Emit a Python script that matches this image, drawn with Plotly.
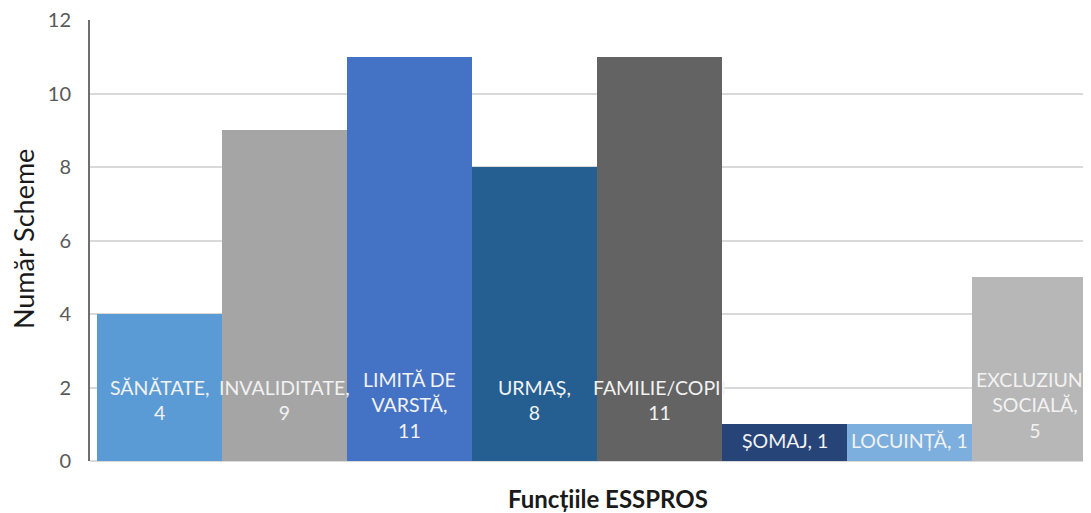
import plotly.graph_objects as go

categories = ["SĂNĂTATE", "INVALIDITATE", "LIMITĂ DE VARSTĂ", "URMAȘ",
              "FAMILIE/COPII", "ȘOMAJ", "LOCUINȚĂ", "EXCLUZIUNE SOCIALĂ"]
values = [4, 9, 11, 8, 11, 1, 1, 5]
label_texts = ["SĂNĂTATE,<br>4", "INVALIDITATE,<br>9", "LIMITĂ DE<br>VARSTĂ,<br>11",
               "URMAȘ,<br>8", "FAMILIE/COPII<br>11", "ȘOMAJ, 1", "LOCUINȚĂ, 1",
               "EXCLUZIUNE<br>SOCIALĂ,<br>5"]
colors = ["#5b9bd5", "#a5a5a5", "#4472c4", "#255e91",
          "#636363", "#264478", "#7cafdd", "#b7b7b7"]
y_ticks = [0, 2, 4, 6, 8, 10, 12]

x_idx = list(range(len(categories)))

fig = go.Figure()
fig.add_trace(go.Bar(
    x=x_idx, y=values, marker=dict(color=colors, line=dict(width=0)),
    width=1.0, hoverinfo="skip", showlegend=False,
))

annotations = []
for i, (v, t) in enumerate(zip(values, label_texts)):
    ly = min(v * 0.57, 1.65)
    if t.count("<br>") == 2:
        ly -= 0.12
    annotations.append(dict(
        x=i, y=ly, xref="x", yref="y", text=t, showarrow=False,
        font=dict(family="Lato", size=19.5, color="#f2f2f2"),
        xanchor="center", yanchor="middle", align="center",
    ))

annotations.append(dict(
    x=0.517, y=-0.084, xref="paper", yref="paper", text="<b>Funcțiile ESSPROS</b>",
    showarrow=False, font=dict(family="Lato", size=24, color="#1a1a1a"),
    xanchor="center", yanchor="middle",
))
annotations.append(dict(
    x=-0.067, y=0.503, xref="paper", yref="paper", text="Număr Scheme",
    showarrow=False, textangle=-90, font=dict(family="Lato", size=27, color="#1a1a1a"),
    xanchor="center", yanchor="middle",
))

unit = 125.0
x0 = -0.5 - 7 / unit
x1 = x0 + 1001 / unit

fig.update_layout(
    width=1083, height=505,
    margin=dict(l=82, r=0, t=12, b=52),
    paper_bgcolor="white", plot_bgcolor="white",
    bargap=0,
    annotations=annotations,
    xaxis=dict(range=[x0, x1], showticklabels=False, showgrid=False,
               zeroline=False, showline=False, fixedrange=True),
    yaxis=dict(range=[0, 12], tickvals=y_ticks, showgrid=True,
               gridcolor="#d9d9d9", gridwidth=1.5, zeroline=True,
               zerolinecolor="#d9d9d9", zerolinewidth=1.5,
               showline=True, linecolor="#6e6e6e", linewidth=2,
               tickfont=dict(family="Lato", size=20, color="#595959"),
               ticks="", ticklabelstandoff=13, ticklabeloverflow="allow"),
)

fig.write_html("out.html")
